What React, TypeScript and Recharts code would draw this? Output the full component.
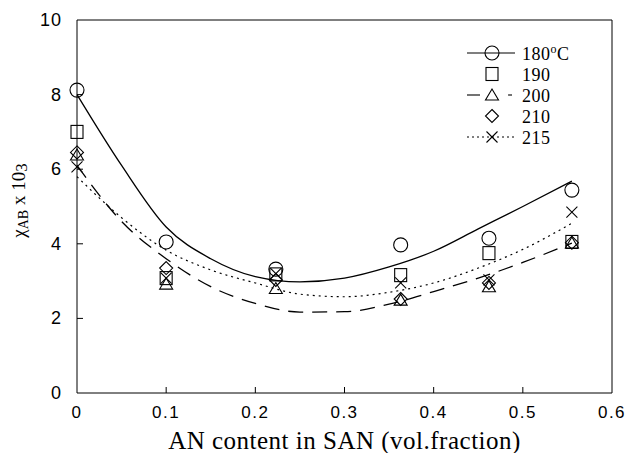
import React from 'react';
import {
  ComposedChart,
  Line,
  Scatter,
  XAxis,
  YAxis,
  ReferenceLine,
} from 'recharts';

// measured AN fractions
const X_POS = [0, 0.1, 0.223, 0.363, 0.462, 0.555];
const T180 = [8.12, 4.05, 3.32, 3.97, 4.15, 5.44];
const T190 = [7.0, 3.08, 3.18, 3.16, 3.75, 4.05];
const T200 = [6.38, 2.92, 2.8, 2.49, 2.85, 4.02];
const T210 = [6.45, 3.35, 3.03, 2.52, 2.95, 4.03];
const T215 = [6.06, 3.08, 3.2, 2.95, 3.03, 4.85];

// fitted curves
const FIT_X = [0, 0.05, 0.1, 0.15, 0.2, 0.25, 0.3, 0.35, 0.4, 0.45, 0.5, 0.555];
const FIT_180 = [8.0, 6.1, 4.45, 3.6, 3.12, 2.98, 3.08, 3.38, 3.8, 4.4, 5.0, 5.68];
const FIT_200 = [6.1, 4.6, 3.6, 2.85, 2.4, 2.17, 2.18, 2.38, 2.72, 3.08, 3.5, 4.02];
const FIT_215 = [5.8, 4.7, 3.83, 3.3, 2.95, 2.65, 2.58, 2.7, 2.95, 3.35, 3.85, 4.55];

const X_TICKS = [0, 0.1, 0.2, 0.3, 0.4, 0.5, 0.6];
const Y_TICKS = [0, 2, 4, 6, 8, 10];
const LEGEND = ['180', '190', '200', '210', '215'];

const pts = (ys: number[]) => X_POS.map((x, i) => ({ x, y: ys[i] }));
const fit = (ys: number[]) => FIT_X.map((x, i) => ({ x, y: ys[i] }));

const SANS = '"Liberation Sans", Arial, sans-serif';
const SERIF = '"Liberation Serif", "Times New Roman", serif';

type Kind = 'circle' | 'square' | 'triangle' | 'diamond' | 'cross';

function Marker({ kind, cx, cy }: { kind: Kind; cx: number; cy: number }) {
  const s = { fill: 'none', stroke: '#000', strokeWidth: 1.1 };
  if (kind === 'circle') return <circle cx={cx} cy={cy} r={7} {...s} />;
  if (kind === 'square') return <rect x={cx - 6} y={cy - 6.5} width={12} height={13} {...s} />;
  if (kind === 'triangle')
    return <polygon points={`${cx - 6.5},${cy + 5} ${cx + 6.5},${cy + 5} ${cx},${cy - 6}`} {...s} />;
  if (kind === 'diamond')
    return <polygon points={`${cx},${cy - 6.5} ${cx + 6.5},${cy} ${cx},${cy + 6.5} ${cx - 6.5},${cy}`} {...s} />;
  return (
    <g {...s}>
      <line x1={cx - 5.5} y1={cy - 5.5} x2={cx + 5.5} y2={cy + 5.5} />
      <line x1={cx - 5.5} y1={cy + 5.5} x2={cx + 5.5} y2={cy - 5.5} />
    </g>
  );
}

const shape = (kind: Kind) => (p: any) => <Marker kind={kind} cx={p.cx} cy={p.cy} />;

const XTick = (p: any) => {
  const v = p.payload.value;
  const axisY = p.y - 10;
  return (
    <g>
      {v > 0 && v < 0.6 && <line x1={p.x} y1={axisY} x2={p.x} y2={axisY - 6} stroke="#000" />}
      <text x={p.x} y={p.y + 15} textAnchor="middle" fontFamily={SANS} fontSize={17} letterSpacing={1.5}>
        {v === 0 ? '0' : v.toFixed(1)}
      </text>
    </g>
  );
};

const YTick = (p: any) => {
  const v = p.payload.value;
  const axisX = p.x + 15;
  return (
    <g>
      {v > 0 && v < 10 && <line x1={axisX} y1={p.y} x2={axisX + 6} y2={p.y} stroke="#000" />}
      <text x={p.x} y={p.y + 6} textAnchor="end" fontFamily={SANS} fontSize={18} letterSpacing={1}>
        {v}
      </text>
    </g>
  );
};

function LegendBox() {
  const kinds: Kind[] = ['circle', 'square', 'triangle', 'diamond', 'cross'];
  return (
    <svg width={160} height={110}>
      {LEGEND.map((lab, i) => {
        const y = 13 + i * 21;
        return (
          <g key={lab}>
            {i === 0 && <line x1={5} y1={y} x2={53} y2={y} stroke="#000" strokeWidth={1.1} />}
            {i === 2 && (
              <>
                <line x1={5} y1={y} x2={18} y2={y} stroke="#000" strokeWidth={1.1} />
                <line x1={46} y1={y} x2={50} y2={y} stroke="#000" strokeWidth={1.1} />
              </>
            )}
            {i === 4 && (
              <line x1={5} y1={y} x2={53} y2={y} stroke="#000" strokeWidth={1} strokeDasharray="2 3" />
            )}
            <Marker kind={kinds[i]} cx={30} cy={y} />
            <text x={60} y={y + 6.5} fontFamily={SERIF} fontSize={18} letterSpacing={0.5}>
              {i === 0 ? (
                <>
                  180<tspan dy={-7} fontSize={12}>o</tspan>
                  <tspan dy={7}>C</tspan>
                </>
              ) : (
                lab
              )}
            </text>
          </g>
        );
      })}
    </svg>
  );
}

export default function App() {
  return (
    <div style={{ position: 'absolute', left: 0, top: 0, width: 628, height: 453, background: '#fff' }}>
      <ComposedChart width={628} height={453} margin={{ top: 20, right: 16, left: 0, bottom: 0 }}>
        <XAxis
          type="number"
          dataKey="x"
          domain={[0, 0.6]}
          ticks={X_TICKS}
          height={60}
          tickSize={0}
          tickMargin={10}
          tickLine={false}
          axisLine={{ stroke: '#000' }}
          tick={<XTick />}
          interval={0}
          allowDuplicatedCategory={false}
          label={{
            value: 'AN content in SAN (vol.fraction)',
            position: 'insideBottom',
            offset: 4,
            style: { fontFamily: SERIF, fontSize: 25, letterSpacing: 0.5, fill: '#000' },
          }}
        />
        <YAxis
          type="number"
          dataKey="y"
          domain={[0, 10]}
          ticks={Y_TICKS}
          width={77}
          tickSize={0}
          tickMargin={15}
          tickLine={false}
          axisLine={{ stroke: '#000' }}
          tick={<YTick />}
          interval={0}
          label={({ viewBox }: any) => {
            const cx = 21;
            const cy = viewBox.y + viewBox.height / 2 - 6;
            return (
              <text
                x={cx}
                y={cy}
                transform={`rotate(-90 ${cx} ${cy})`}
                textAnchor="middle"
                fontFamily={SERIF}
                fontSize={19}
                dominantBaseline="middle"
              >
                <tspan>χ</tspan>
                <tspan fontSize={14} dy={4}>AB</tspan>
                <tspan dy={-4}> x 10</tspan>
                <tspan fontSize={17} dy={2}>3</tspan>
              </text>
            );
          }}
        />
        <ReferenceLine y={10} stroke="#000" />
        <ReferenceLine x={0.6} stroke="#000" />
        <Line data={fit(FIT_180)} dataKey="y" type="monotone" stroke="#000" strokeWidth={1.3} dot={false} isAnimationActive={false} />
        <Line data={fit(FIT_200)} dataKey="y" type="monotone" stroke="#000" strokeWidth={1.3} strokeDasharray="15 9" dot={false} isAnimationActive={false} />
        <Line data={fit(FIT_215)} dataKey="y" type="monotone" stroke="#000" strokeWidth={1.2} strokeDasharray="2 4" dot={false} isAnimationActive={false} />
        <Scatter data={pts(T180)} dataKey="y" shape={shape('circle')} isAnimationActive={false} />
        <Scatter data={pts(T190)} dataKey="y" shape={shape('square')} isAnimationActive={false} />
        <Scatter data={pts(T200)} dataKey="y" shape={shape('triangle')} isAnimationActive={false} />
        <Scatter data={pts(T210)} dataKey="y" shape={shape('diamond')} isAnimationActive={false} />
        <Scatter data={pts(T215)} dataKey="y" shape={shape('cross')} isAnimationActive={false} />
      </ComposedChart>
      <div style={{ position: 'absolute', left: 462, top: 40 }}>
        <LegendBox />
      </div>
    </div>
  );
}
